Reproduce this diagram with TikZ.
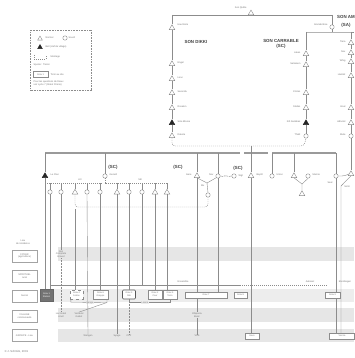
\documentclass[tikz,border=0pt]{standalone}
\usepackage{fontspec}
\setmainfont{Liberation Sans}
\usetikzlibrary{shapes.geometric,positioning}
\definecolor{lnc}{HTML}{8C8C8C}
\definecolor{txc}{HTML}{767676}
\definecolor{bandc}{HTML}{E6E6E6}
\definecolor{barc}{HTML}{9A9A9A}
\tikzset{
 tri/.style={regular polygon, regular polygon sides=3, draw=lnc, fill=white, inner sep=0pt, minimum size=6.5pt, line width=.4pt},
 ftri/.style={tri, fill=black!85, draw=black!85},
 circ/.style={circle, draw=lnc, fill=white, inner sep=0pt, minimum size=4.4pt, line width=.4pt},
 lbl/.style={font=\fontsize{2.4}{2.8}\selectfont, text=txc, inner sep=0.4pt, align=center},
 hdr/.style={font=\fontsize{4.4}{5}\selectfont\bfseries, text=black!75, inner sep=0pt, align=center},
 lnk/.style={draw=lnc, line width=.4pt},
 dl/.style={draw=lnc, line width=.45pt, dash pattern=on 1pt off 1pt},
 dotl/.style={draw=lnc, line width=.45pt, dash pattern=on .5pt off 1pt},
 barline/.style={draw=barc, line width=1.3pt},
 gbox/.style={draw=lnc, fill=white, line width=.4pt, inner sep=0.3pt, font=\fontsize{2.3}{2.7}\selectfont, text=txc, align=center, minimum height=7pt},
 rowbox/.style={draw=lnc!80, fill=white, line width=.35pt, minimum width=25pt, minimum height=12pt, inner sep=0.3pt, font=\fontsize{2.4}{2.8}\selectfont, text=txc, align=center}
}
\begin{document}
\begin{tikzpicture}[x=1pt,y=-1pt]
\useasboundingbox (0,0) rectangle (354,358);
\fill[white] (0,0) rectangle (354,358);
% bands
\fill[bandc] (58,247) rectangle (354,261);
\fill[bandc!70] (53,289) rectangle (354,302);
\fill[bandc] (58,308) rectangle (354,322);
\fill[bandc] (58,329) rectangle (354,342);

% legend
\node[draw=lnc, dash pattern=on .8pt off .8pt, line width=.35pt, minimum width=61pt, minimum height=60pt, inner sep=0] (legend) at (61,60) {};
\node[tri, minimum size=5.5pt] (lgT) at (40,38.8) {};
\node[lbl, anchor=west] (lgTl) at (45,38) {Normal};
\node[circ] (lgC) at (65,38) {};
\node[lbl, anchor=west] (lgCl) at (68,38) {Sourd};
\node[ftri, minimum size=5.5pt] (lgF) at (40,47.3) {};
\node[lbl, anchor=west] (lgFl) at (45,46.5) {Bell (clef de village)};
\coordinate (lgM1) at (34,55); \coordinate (lgM2) at (46,55);
\draw[dl] (lgM1) -- ++(0,4) -| (lgM2);
\node[lbl, anchor=west] (lgMl) at (50,57) {Montage};
\node[lbl, anchor=west] (lgS) at (33,64.5) {Spezie : Tiercé};
\node[gbox, minimum width=15pt, minimum height=6pt] (lgB) at (40.5,74.5) {Grav 1};
\node[lbl, anchor=west] (lgBl) at (50,74.5) {Tiroir au site};
\node[lbl, anchor=north west, align=left] (lgN) at (33,80) {Pour les questions de Dieux\\voir cycle 7 (Statut Prairie)};

% top line
\coordinate (tl) at (172,15);
\coordinate (tr) at (332,15);
\draw[lnk] (tl) -- (tr);
\node[tri] (cc) at (251,13.3) {};
\node[lbl, anchor=east] (ccl) at (247,8) {Son Quête};
\node[circ] (gb) at (332,27) {};
\node[lbl, anchor=east] (gbl) at (328,25) {Grande Bise};
\draw[lnk] (tr) -- (gb.north);
\coordinate (scT) at (306,32);
\coordinate (gbj) at (332,32);
\coordinate (saT) at (351,32);
\draw[lnk] (gb.south) -- (gbj);
\draw[lnk] (scT) -- (saT) -- (354,32);

% DIKKI column
\node[tri] (he) at (172,28) {};
\node[lbl, anchor=west] (hel) at (177,25) {Haut Eole};
\node[hdr] (hdk) at (196,42) {SON DIKKI};
\node[tri] (d1) at (172,64) {};
\node[tri] (d2) at (172,79) {};
\node[tri] (d3) at (172,93) {};
\node[tri] (d4) at (172,108) {};
\node[ftri] (d5) at (172,123) {};
\node[tri] (d6) at (172,136) {};
\node[lbl, anchor=west] at (177,63) {Engel};
\node[lbl, anchor=west] at (177,78) {Lievi};
\node[lbl, anchor=west] at (177,92) {Serenda};
\node[lbl, anchor=west] at (177,107) {Rosalen};
\node[lbl, anchor=west] at (177,122) {Sole Blosse};
\node[lbl, anchor=west] at (177,135) {Dakota};
\draw[lnk] (tl) -- (he.north);
\draw[lnk] (he.south) -- (d1.north) (d1.south) -- (d2.north) (d2.south) -- (d3.north)
 (d3.south) -- (d4.north) (d4.south) -- (d5.north) (d5.south) -- (d6.north);

% SC column
\node[hdr] (hsc) at (281,44) {SON CARRABLE\\(SC)};
\node[tri] (s1) at (306,54) {};
\node[tri] (s2) at (306,65) {};
\node[tri] (s3) at (306,93) {};
\node[tri] (s4) at (306,108) {};
\node[ftri] (s5) at (306,123) {};
\node[circ] (s6) at (306,136) {};
\node[lbl, anchor=east] at (301,53) {Lakes};
\node[lbl, anchor=east] at (301,64) {Satsaken};
\node[lbl, anchor=east] at (301,92) {Circles};
\node[lbl, anchor=east] at (301,107) {Stalles};
\node[lbl, anchor=east] at (301,122) {Kill Gambias};
\node[lbl, anchor=east] at (301,135) {Thalit};
\draw[lnk] (scT) -- (s1.north) (s1.south) -- (s2.north) (s2.south) -- (s3.north)
 (s3.south) -- (s4.north) (s4.south) -- (s5.north) (s5.south) -- (s6.north);

% SA column
\node[hdr, anchor=west] (hsa) at (337,17) {SON AMONT};
\node[hdr] (hsa2) at (346,25) {(SA)};
\node[tri] (a01) at (351,43) {};
\node[tri] (a02) at (351,53) {};
\node[tri] (a03) at (351,62) {};
\node[tri] (a04) at (351,76) {};
\node[tri] (a05) at (351,108) {};
\node[tri] (a06) at (351,123) {};
\node[circ] (a07) at (351,136) {};
\node[lbl, anchor=east] at (346,42) {Tiara};
\node[lbl, anchor=east] at (346,52) {Nox};
\node[lbl, anchor=east] at (346,61) {Whig};
\node[lbl, anchor=east] at (346,75) {Hamlet};
\node[lbl, anchor=east] at (346,107) {Goal};
\node[lbl, anchor=east] at (346,122) {Adnotel};
\node[lbl, anchor=east] at (346,135) {Mute};
\draw[lnk] (saT) -- (a01.north) (a01.south) -- (a02.north) (a02.south) -- (a03.north)
 (a03.south) -- (a04.north) (a04.south) -- (a05.north) (a05.south) -- (a06.north) (a06.south) -- (a07.north);

% montage bottom of columns
\coordinate (mb) at (251,146);
\draw[dl, rounded corners=3pt] (d6.south) -- (172,146) -- (304,146) -- (s6.south);

% thick bar
\draw[barline] (45,153) -- (240,153);
\draw[barline] (244,153) -- (268,153);
\draw[barline] (272,153) -- (336,153);

% middle row
\node[ftri] (lc) at (45,176) {};
\node[lbl, anchor=west] at (50,175) {Le Clan};
\node[hdr] (h1) at (113,167) {(SC)};
\node[circ] (ge) at (105,176) {};
\node[lbl, anchor=west] at (109,175) {Gerard};
\node[hdr] (h2) at (178,167) {(SC)};
\node[tri] (ga) at (197,176) {};
\node[lbl, anchor=east] at (192,175) {Gare};
\node[circ] (nv) at (218,176) {};
\node[lbl, anchor=east] at (214,175) {Nov};
\node[hdr] (h3) at (238,168) {(SC)};
\node[circ] (wg) at (234,176) {};
\node[lbl, anchor=west] at (238,176) {Wgt};
\node[tri] (bp) at (251,176) {};
\node[lbl, anchor=west] at (256,175) {Baptit};
\node[circ] (os) at (272,176) {};
\node[lbl, anchor=west] at (276,175) {Union};
\node[tri] (mt) at (294,176) {};
\node[circ] (mr) at (308,176) {};
\node[lbl, anchor=west] at (312,175) {Marnie};
\node[circ] (sl) at (336,176) {};
\node[lbl, anchor=east] at (333,183) {Seal};
\node[tri] (so) at (351,174) {};
\node[lbl] at (347,187) {Sonti};

\draw[lnk] (45,153) -- (lc.north);
\draw[lnk] (105,153) -- (ge.north);
\draw[lnk] (197,153) -- (ga.north);
\draw[lnk] (218,153) -- (nv.north);
\draw[lnk] (mb) -- (bp.north);
\draw[lnk] (272,153) -- (os.north);
\draw[lnk] (294,153) -- (mt.north);
\draw[lnk] (336,153) -- (sl.north);
\draw[lnk] (a07.south) -- (so.north);
\draw[lnk, rounded corners=2pt] (sl.east) -- (344,176) -- (so.west);

% group A (Le Clan)
\coordinate (aL) at (45,183);
\coordinate (aR) at (102,183);
\draw[dl] (aL) -- (aR);
\node[lbl] at (80,180) {Art};
\node[circ] (a1) at (50,192) {};
\node[circ] (a2) at (61,192) {};
\node[tri] (a3) at (75,192.5) {};
\node[circ] (a4) at (87,192) {};
\node[circ] (a5) at (100,192) {};
\foreach \n/\x in {a1/50,a2/61,a3/75,a4/87,a5/100} \draw[lnk] (\x,183) -- (\n.north);
% group B (Gerard)
\coordinate (bR) at (168,183);
\draw[dl] (ge.south) |- (bR);
\node[lbl] at (140,180) {SB};
\node[tri] (b1) at (117,192.5) {};
\node[circ] (b2) at (129,192) {};
\node[circ] (b3) at (142,192) {};
\node[tri] (b4) at (155,192.5) {};
\node[tri] (b5) at (167,192.5) {};
\foreach \n/\x in {b1/117,b2/129,b3/142,b4/155,b5/167} \draw[lnk] (\x,183) -- (\n.north);

% group C
\coordinate (jx) at (207,183);
\node[lbl, anchor=east] at (205,186) {Mx};
\node[circ] (mx) at (208,195) {};
\draw[lnk] (ga.south) -- (jx) (nv.south west) -- (jx) (jx) -- (mx.north);
\node[lbl, fill=white] (ttl) at (226,176.5) {TTL};
\draw[lnk] (nv.east) -- (ttl.west) (ttl.east) -- (wg.west);
\draw[dl, rounded corners=3pt] (a3.south) -- (75,207) -- (208,207) -- (mx.south);

% group D
\coordinate (jy) at (302,184);
\node[tri] (my) at (302,194) {};
\draw[lnk] (mt.south) -- (jy) (mr.south) -- (jy) (jy) -- (my.north);

% lower area: row labels
\node[lbl] (rh) at (23,242.5) {Lieu\\de résidence};
\node[rowbox] (r1) at (24.5,256) {FOYER\\(agriculture)};
\node[rowbox] (r2) at (24.5,276) {SPIRITUEL\\rural};
\node[rowbox] (r3) at (24.5,296) {Sacral};
\node[rowbox] (r4) at (24.5,316) {VILLAGE\\communauté};
\node[rowbox] (r5) at (24.5,335.5) {GROUPE - Lieu};

% sacral line
\coordinate (sqL) at (50,285);
\coordinate (sqM) at (240,285);
\coordinate (sqR) at (328,285);
\draw[lnk] (sqL) -- (sqM);
\draw[dl] (sqM) -- (sqR);
\node[lbl] at (183,281.5) {Ensemble};
\node[lbl] at (310,281.5) {Aubaret};
\node[lbl] at (345,281.5) {Ekodraigen};

% sacral boxes
\node[gbox, fill=black!55, draw=black!60, text=white, minimum width=13pt, minimum height=12pt] (g1) at (46.5,295.5) {Grav 1\\Station};
\node[gbox, dashed, minimum width=13pt, minimum height=9pt] (g4) at (76.5,294.5) {Grav 4\\Scène};
\node[gbox, minimum width=15pt, minimum height=9pt] (g6) at (100.5,294.5) {Grav 6\\Grappe};
\node[gbox, draw=black!65, line width=.6pt, rounded corners=1pt, minimum width=13pt, minimum height=9pt] (g3) at (129,294.5) {Grav 3\\Site};
\node[gbox, minimum width=14pt, minimum height=9pt] (g2) at (155,294.5) {Grav 2\\Cour};
\node[gbox, minimum width=14pt, minimum height=9pt] (g5) at (170,294.5) {Grav 5\\Terre};
\node[gbox, minimum width=42pt, minimum height=6pt] (g7) at (206,295) {Grav 7};
\node[gbox, minimum width=13pt, minimum height=6pt] (g8) at (240.5,295) {Grav 8};
\node[gbox, minimum width=15pt, minimum height=6pt] (g9) at (332.5,295) {Grav 9};

% brackets below
\draw[lnk] (g4.south west) ++(1,0) -- ++(0,3) -- (107,302.5) -- (107,299);
\node[lbl, fill=bandc!70] at (90,302.5) {Lange};
\draw[lnk] (g3.south) -- ++(0,3) -| (g5.south);
\node[lbl, fill=bandc!70] at (145,302.5) {Lance};

% row labels in bands
\node[lbl] (ncg) at (61,254) {Non\\Complete\\Gravel};
\node[lbl] (lga) at (61,315) {Lac Gatel\\Anvil};
\node[lbl] (vga) at (79,315) {Vertaval\\Gabet};
\node[lbl] (oba) at (197,315) {Obipenia\\Basic};
\node[lbl] (wen) at (88,336) {Wengen};
\node[lbl] (sya) at (117,336) {Syage};
\node[lbl] (cff) at (129,336) {CFF};
\node[lbl] (vss) at (197,336) {VSS};
\node[gbox, minimum width=14pt, minimum height=6pt] (gar) at (252,336) {Gare};
\node[gbox, minimum width=25pt, minimum height=6pt] (vie) at (342,336) {Vierna};

% verticals
\draw[lnk] (lc.south) -- (g1.north -| lc.south);
\draw[lnk] (a1.south) -- (50,289);
\draw[lnk] (a2.south) -- (ncg.north);
\draw[dotl] (ncg.south) -- (lga.north);
\draw[lnk] (a3.south) ++(0,15) -- (g4.north -| a3.south);
\draw[lnk] (a4.south) -- (wen.north);
\draw[lnk] (a5.south) -- (g6.north -| a5.south);
\draw[lnk] (b1.south) -- (sya.north);
\draw[lnk] (b2.south) -- (g3.north -| b2.south);
\draw[dotl] (g3.south) ++(0,3) -- (cff.north);
\draw[lnk] (b3.south) -- (142,285);
\draw[lnk] (b4.south) -- (g2.north);
\draw[lnk] (b5.south) -- (g5.north -| b5.south);
\draw[lnk] (107,302.5) -- (vga.north);
\draw[lnk] (ga.south) -- (g7.north -| ga.south);
\draw[lnk] (g7.south -| ga.south) -- (oba.north);
\draw[lnk] (oba.south) -- (vss.north);
\draw[lnk] (nv.south) -- (g7.north -| nv.south);
\draw[lnk] (bp.south) -- (gar.north -| bp.south);
\draw[lnk] (sl.south) -- (g9.north -| sl.south);
\draw[lnk] (g9.south -| sl.south) -- (vie.north -| sl.south);
\draw[lnk] (so.south) -- (341,186) -- (vie.north -| 341,0);

\node[lbl, anchor=west, font=\fontsize{2.8}{3.2}\selectfont] (copy) at (4,351.5) {© J. Schmitz, 2001};
\end{tikzpicture}
\end{document}
